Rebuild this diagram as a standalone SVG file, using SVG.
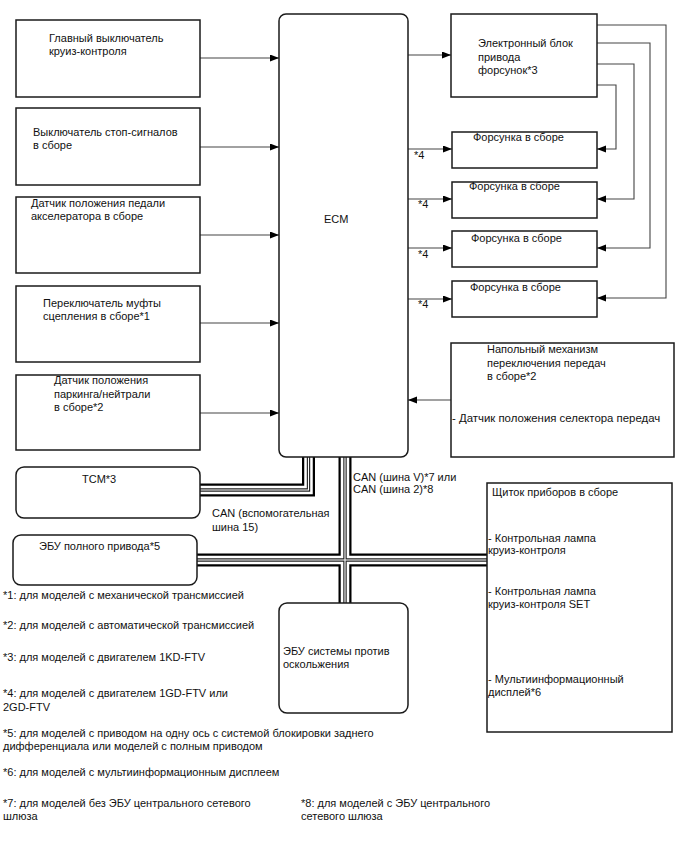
<svg xmlns="http://www.w3.org/2000/svg" width="688" height="852" viewBox="0 0 688 852">
<style>
text{font-family:"Liberation Sans",Arial,sans-serif;font-size:11px;fill:#111}
.box{fill:#fff;stroke:#1a1a1a;stroke-width:1.5}
.ln{fill:none;stroke:#444;stroke-width:1.1}
.b1{fill:none;stroke:#000;stroke-width:13}
.b2{fill:none;stroke:#fff;stroke-width:8.5}
.b3{fill:none;stroke:#222;stroke-width:3.4}
.b4{fill:none;stroke:#fff;stroke-width:1.1}
</style>
<defs>
<marker id="ah" markerUnits="userSpaceOnUse" markerWidth="10" markerHeight="8" refX="9" refY="3.5" orient="auto">
<path d="M0,0 L9,3.5 L0,7 z" fill="#000"/>
</marker>
</defs>
<g id="connectors">
<path class="ln" d="M200,58 H279" marker-end="url(#ah)"/>
<path class="ln" d="M200,147 H279" marker-end="url(#ah)"/>
<path class="ln" d="M200,235 H279" marker-end="url(#ah)"/>
<path class="ln" d="M200,323 H279" marker-end="url(#ah)"/>
<path class="ln" d="M200,413 H279" marker-end="url(#ah)"/>
<path class="ln" d="M408,55 H451" marker-end="url(#ah)"/>
<path class="ln" d="M408,149 H452" marker-end="url(#ah)"/>
<path class="ln" d="M408,199 H452" marker-end="url(#ah)"/>
<path class="ln" d="M408,248 H452" marker-end="url(#ah)"/>
<path class="ln" d="M408,299 H452" marker-end="url(#ah)"/>
<path class="ln" d="M597,25 H666 V298 H597" marker-end="url(#ah)"/>
<path class="ln" d="M597,43 H650 V248 H597" marker-end="url(#ah)"/>
<path class="ln" d="M597,64 H634 V199 H597" marker-end="url(#ah)"/>
<path class="ln" d="M597,85 H616 V149 H597" marker-end="url(#ah)"/>
<path class="ln" d="M451,400 H408" marker-end="url(#ah)"/>
<g id="bus">
<path class="b1" d="M200,490 H308.5 V456 M345,456 V603 M197,560 H487"/>
<path class="b2" d="M200,490 H308.5 V456 M345,456 V603 M197,560 H487"/>
<path class="b3" d="M200,490 H308.5 V456 M345,456 V603 M197,560 H487"/>
<path class="b4" d="M200,490 H308.5 V456 M345,456 V603 M197,560 H487"/>
</g>
</g>
<g id="main-switch"><rect class="box" x="16" y="20" width="184" height="77"/><text x="49" y="42">Главный выключатель</text><text x="49" y="55">круиз-контроля</text></g>
<g id="stop-switch"><rect class="box" x="16" y="108" width="184" height="77"/><text x="33" y="136">Выключатель стоп-сигналов</text><text x="33" y="149">в сборе</text></g>
<g id="accel-sensor"><rect class="box" x="16" y="197" width="184" height="76"/><text x="31" y="207">Датчик положения педали</text><text x="31" y="220">акселератора в сборе</text></g>
<g id="clutch-switch"><rect class="box" x="16" y="286" width="184" height="76"/><text x="43" y="307">Переключатель муфты</text><text x="43" y="320">сцепления в сборе*1</text></g>
<g id="pn-sensor"><rect class="box" x="16" y="375" width="184" height="75"/><text x="54" y="384">Датчик положения</text><text x="54" y="397.5">паркинга/нейтрали</text><text x="54" y="411">в сборе*2</text></g>
<g id="ecm"><rect class="box" x="279" y="14" width="129" height="443" rx="7"/><text x="324" y="223">ECM</text></g>
<g id="edu"><rect class="box" x="451" y="14" width="146" height="83"/><text x="478" y="47">Электронный блок</text><text x="478" y="60.5">привода</text><text x="478" y="74">форсунок*3</text></g>
<g id="inj1"><rect class="box" x="452" y="132" width="145" height="36"/><text x="473" y="141">Форсунка в сборе</text><text x="414" y="159">*4</text></g>
<g id="inj2"><rect class="box" x="452" y="182" width="145" height="36"/><text x="469" y="190">Форсунка в сборе</text><text x="418" y="208">*4</text></g>
<g id="inj3"><rect class="box" x="452" y="231" width="145" height="36"/><text x="471" y="242">Форсунка в сборе</text><text x="418" y="258">*4</text></g>
<g id="inj4"><rect class="box" x="452" y="281" width="145" height="36"/><text x="470" y="291">Форсунка в сборе</text><text x="418" y="308">*4</text></g>
<g id="shifter"><rect class="box" x="451" y="343" width="223" height="114"/><text x="487" y="353">Напольный механизм</text><text x="487" y="366.5">переключения передач</text><text x="487" y="380">в сборе*2</text><text x="452" y="422" style="font-size:11.4px">- Датчик положения селектора передач</text></g>
<g id="tcm"><rect class="box" x="16" y="467" width="184" height="51" rx="8"/><text x="82" y="483">TCM*3</text></g>
<g id="awd-ecu"><rect class="box" x="13" y="535" width="184" height="50" rx="8"/><text x="39" y="550">ЭБУ полного привода*5</text></g>
<g id="abs-ecu"><rect class="box" x="279" y="603" width="129" height="110" rx="8"/><text x="283" y="655">ЭБУ системы против</text><text x="283" y="667.5">оскольжения</text></g>
<g id="cluster"><rect class="box" x="487" y="483" width="185" height="249"/><text x="492" y="496">Щиток приборов в сборе</text><text x="488" y="541.5">- Контрольная лампа</text><text x="488" y="554">круиз-контроля</text><text x="488" y="595">- Контрольная лампа</text><text x="488" y="607.5">круиз-контроля SET</text><text x="488" y="683">- Мультиинформационный</text><text x="488" y="696">дисплей*6</text></g>
<g id="bus-labels"><text x="212" y="517">CAN (вспомогательная</text><text x="212" y="531">шина 15)</text><text x="353" y="481">CAN (шина V)*7 или</text><text x="353" y="493">CAN (шина 2)*8</text></g>
<g id="notes">
<text x="3" y="599">*1: для моделей с механической трансмиссией</text>
<text x="3" y="629">*2: для моделей с автоматической трансмиссией</text>
<text x="3" y="661">*3: для моделей с двигателем 1KD-FTV</text>
<text x="3" y="697">*4: для моделей с двигателем 1GD-FTV или</text>
<text x="3" y="710.5">2GD-FTV</text>
<text x="3" y="736.5">*5: для моделей с приводом на одну ось с системой блокировки заднего</text>
<text x="3" y="749.5">дифференциала или моделей с полным приводом</text>
<text x="3" y="776">*6: для моделей с мультиинформационным дисплеем</text>
<text x="3" y="807">*7: для моделей без ЭБУ центрального сетевого</text>
<text x="3" y="820">шлюза</text>
<text x="301" y="807">*8: для моделей с ЭБУ центрального</text>
<text x="301" y="820">сетевого шлюза</text>
</g>
</svg>
